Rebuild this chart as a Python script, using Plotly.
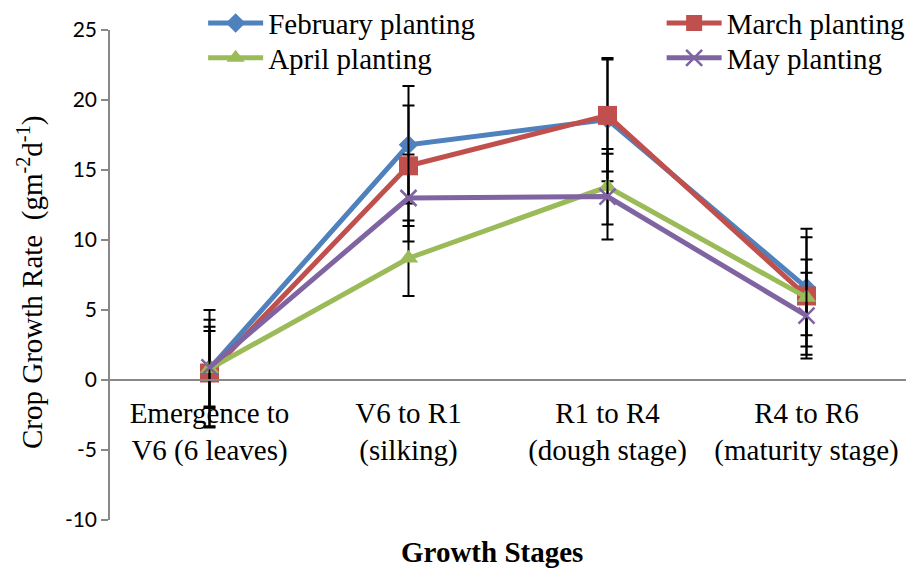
import plotly.graph_objects as go

stages = ["Emergence to<br>V6 (6 leaves)", "V6 to R1<br>(silking)",
          "R1 to R4<br>(dough stage)", "R4 to R6<br>(maturity stage)"]

feb = [0.8, 16.8, 18.6, 6.6]
feb_err = [4.2, 4.2, 4.4, 4.2]
mar = [0.5, 15.3, 18.9, 6.0]
mar_err = [3.8, 4.3, 4.0, 4.2]
apr = [0.8, 8.7, 13.8, 5.9]
apr_err = [2.7, 2.7, 2.7, 2.7]
may = [0.9, 13.0, 13.1, 4.6]
may_err = [2.9, 3.1, 3.06, 3.06]

y_tickvals = [-10, -5, 0, 5, 10, 15, 20, 25]
y_ticktext = ["-10", "-5", "0", "5", "10", "15", "20", "25"]

names = ["February planting", "March planting", "April planting", "May planting"]
colors = ["#4F81BD", "#C0504D", "#9BBB59", "#8064A2"]
symbols = ["diamond", "square", "triangle-up", "x-thin"]
sizes = [15, 19, 17, 16]
legends = ["legend", "legend2", "legend3", "legend4"]
series = [feb, mar, apr, may]
errors = [feb_err, mar_err, apr_err, may_err]

serif = "Liberation Serif, Times New Roman, serif"

fig = go.Figure()
for nm, col, sym, sz, lg, vals, err in zip(names, colors, symbols, sizes, legends, series, errors):
    marker = dict(symbol=sym, size=sz, color=col)
    if sym == "x-thin":
        marker["line"] = dict(color=col, width=2.5)
    fig.add_trace(go.Scatter(
        x=stages, y=vals, name=nm, mode="lines+markers",
        line=dict(color=col, width=5),
        marker=marker,
        error_y=dict(type="data", array=err, visible=True, color="black",
                     thickness=2, width=6),
        legend=lg, showlegend=True,
    ))

def leg(x, y):
    return dict(x=x, y=y, xanchor="left", yanchor="top",
                font=dict(family=serif, size=29, color="black"),
                bgcolor="rgba(0,0,0,0)", itemwidth=55, visible=True)

fig.update_layout(
    width=909, height=569,
    margin=dict(l=110, r=3, t=30, b=49, autoexpand=False),
    paper_bgcolor="white", plot_bgcolor="white",
    font=dict(family=serif, color="black"),
    showlegend=True,
    legend=leg(0.117, 1.066),
    legend2=leg(0.693, 1.066),
    legend3=leg(0.117, 0.995),
    legend4=leg(0.693, 0.995),
    xaxis=dict(
        type="category", range=[-0.5, 3.5],
        anchor="free", position=10 / 35,
        showline=True, linecolor="#888888", linewidth=1.5,
        ticks="", showgrid=False, zeroline=False,
        ticklabelstandoff=7,
        tickfont=dict(family=serif, size=29, color="black"),
    ),
    yaxis=dict(
        range=[-10, 25], tickvals=y_tickvals, ticktext=y_ticktext,
        showline=True, linecolor="#888888", linewidth=1.5,
        ticks="outside", ticklen=7, tickcolor="#888888", tickwidth=1.5,
        showgrid=False, zeroline=False,
        tickfont=dict(family="Lato, Carlito, sans-serif", size=21, color="black"),
    ),
    annotations=[
        dict(text="<b>Growth Stages</b>", xref="paper", yref="paper",
             x=(492 - 110) / 796, y=-0.065, xanchor="center", yanchor="middle",
             showarrow=False, font=dict(family=serif, size=29, color="black")),
        dict(text="Crop Growth Rate  (gm<sup>-2</sup>d<sup>-1</sup>)",
             xref="paper", yref="paper", textangle=-90,
             x=(30 - 110) / 796, y=(520 - 283) / 490,
             xanchor="center", yanchor="middle", showarrow=False,
             font=dict(family=serif, size=29, color="black")),
    ],
)

fig.write_html("out.html")
